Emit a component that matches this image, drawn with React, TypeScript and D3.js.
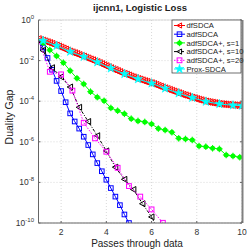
import React from 'react';
import * as d3 from 'd3';

// values are log10 of the duality gap
const dfX = [1.0,1.1,1.2,1.3,1.4,1.5,1.6,1.7,1.8,1.9,2.0,2.1,2.2,2.3,2.4,2.5,2.6,2.7,2.8,2.9,3.0,3.1,3.2,3.3,3.4,3.5,3.6,3.7,3.8,3.9,4.0,4.1,4.2,4.3,4.4,4.5,4.6,4.7,4.8,4.9,5.0,5.1,5.2,5.3,5.4,5.5,5.6,5.7,5.8,5.9,6.0,6.1,6.2,6.3,6.4,6.5,6.6,6.7,6.8,6.9,7.0,7.1,7.2,7.3,7.4,7.5,7.6,7.7,7.8,7.9,8.0,8.1,8.2,8.3,8.4,8.5,8.6,8.7,8.8,8.9,9.0,9.1,9.2,9.3,9.4,9.5,9.6,9.7,9.8,9.9,10.0];
const dfLog = [-0.94,-0.98,-1.01,-1.05,-1.09,-1.13,-1.17,-1.22,-1.26,-1.30,-1.35,-1.40,-1.45,-1.50,-1.55,-1.59,-1.63,-1.67,-1.72,-1.76,-1.80,-1.85,-1.89,-1.94,-1.98,-2.03,-2.07,-2.12,-2.17,-2.22,-2.27,-2.32,-2.37,-2.42,-2.46,-2.51,-2.56,-2.61,-2.65,-2.69,-2.73,-2.78,-2.82,-2.86,-2.90,-2.93,-2.97,-3.01,-3.04,-3.08,-3.11,-3.15,-3.19,-3.24,-3.28,-3.32,-3.36,-3.40,-3.44,-3.48,-3.52,-3.56,-3.60,-3.64,-3.68,-3.71,-3.75,-3.79,-3.82,-3.85,-3.89,-3.92,-3.95,-3.98,-4.01,-4.03,-4.05,-4.07,-4.09,-4.11,-4.13,-4.14,-4.15,-4.16,-4.17,-4.18,-4.19,-4.20,-4.20,-4.21,-4.21];

const adfX = [1.0,1.2,1.4,1.6,1.8,2.0,2.2,2.4,2.6,2.8,3.0,3.2,3.4,3.6,3.8,4.0,4.2,4.4,4.6,4.8,5.0,5.2];
const adfLog = [-0.95,-1.35,-1.87,-2.45,-3.0,-3.5,-4.05,-4.6,-5.0,-5.35,-5.75,-6.16,-6.62,-7.05,-7.45,-7.87,-8.28,-8.7,-9.12,-9.58,-10.0,-10.45];

const s1X = [1.0,1.2,1.5,1.8,2.1,2.4,2.7,3.0,3.3,3.6,3.9,4.2,4.5,4.8,5.1,5.4,5.7,6.0,6.3,6.6,6.9,7.2,7.5,7.8,8.1,8.4,8.7,9.0,9.3,9.6,9.9];
const s1Log = [-0.95,-1.12,-1.48,-1.77,-2.10,-2.50,-2.87,-3.15,-3.53,-3.8,-3.98,-4.33,-4.47,-4.62,-4.86,-4.97,-5.02,-5.12,-5.35,-5.42,-5.53,-5.83,-5.86,-5.91,-6.21,-6.24,-6.32,-6.35,-6.65,-6.70,-6.76];

const s10X = [1.0,1.2,1.6,2.0,2.4,2.8,3.2,3.6,4.0,4.4,4.8,5.2,5.6,6.0,6.4];
const s10Log = [-1.0,-1.5,-2.35,-2.8,-3.3,-4.3,-5.0,-5.7,-6.45,-7.25,-7.85,-8.35,-9.05,-9.7,-10.6];

const s20X = [1.0,1.5,2.0,2.5,3.0,3.5,4.0,4.5,5.0,5.5,6.0,6.5,7.0];
const s20Log = [-1.0,-2.55,-2.68,-3.48,-5.06,-5.83,-6.49,-7.28,-8.18,-8.70,-9.33,-9.99,-10.9];

const proxX = [1.0,1.2,1.8,2.4,3.0,3.6,4.2,4.8,5.4,6.0,6.6,7.2,7.8,8.4,9.0,9.6,10.0];
const proxLog = [-0.95,-1.02,-1.27,-1.56,-1.81,-2.08,-2.38,-2.66,-2.91,-3.12,-3.37,-3.61,-3.83,-4.02,-4.14,-4.20,-4.22];

const names = ['dfSDCA', 'adfSDCA', 'adfSDCA+, s=1', 'adfSDCA+, s=10', 'adfSDCA+, s=20', 'Prox-SDCA'];
const xTicks = [2, 4, 6, 8, 10];
const yExp = [0, -2, -4, -6, -8, -10];

const series = [
  { xs: dfX, ys: dfLog, color: '#ff0000', marker: 'tri', dash: undefined, skipFirst: false, size: 3.4 },
  { xs: adfX, ys: adfLog, color: '#0000ff', marker: 'sq', dash: undefined, skipFirst: true, size: 2.3 },
  { xs: s1X, ys: s1Log, color: '#00ff00', marker: 'circ', dash: undefined, skipFirst: true, size: 2.5 },
  { xs: s10X, ys: s10Log, color: '#000000', marker: 'tri', dash: '3,1.5,1,1.5', skipFirst: true, size: 3 },
  { xs: s20X, ys: s20Log, color: '#ff00ff', marker: 'sq', dash: '1.5,1.5', skipFirst: true, size: 2.4 },
  { xs: proxX, ys: proxLog, color: '#00ffff', marker: 'star', dash: undefined, skipFirst: true, size: 2.5 },
];

const W = 249, H = 250;
const left = 38.5, right = 242, top = 20, bottom = 223;
const font = 'Liberation Sans, Arial, sans-serif';

const Marker = ({ type, x, y, color, s }: { type: string; x: number; y: number; color: string; s: number }) => {
  if (type === 'tri') {
    return <polygon points={`${x - s},${y} ${x + s * 0.8},${y - s} ${x + s * 0.8},${y + s}`} fill="none" stroke={color} strokeWidth={1} />;
  }
  if (type === 'sq') {
    return <rect x={x - s} y={y - s} width={2 * s} height={2 * s} fill="none" stroke={color} strokeWidth={1} />;
  }
  if (type === 'circ') {
    return (
      <g>
        <circle cx={x} cy={y} r={s} fill={color} />
        <path d={`M${x - s - 0.8},${y}H${x + s + 0.8}M${x},${y - s - 0.8}V${y + s + 0.8}`} stroke={color} strokeWidth={1} />
      </g>
    );
  }
  const star = d3.symbol().type(d3.symbolStar).size(s * s * 4)();
  return <path d={star || ''} transform={`translate(${x},${y})`} fill={color} stroke={color} strokeWidth={0.6} />;
};

export default function App() {
  const x = d3.scaleLinear().domain([1, 10]).range([left, right]);
  const y = d3.scaleLog().domain([1e-10, 1]).range([bottom, top]);

  const line = d3.line<[number, number]>().x(d => x(d[0])).y(d => y(Math.pow(10, d[1])));

  const legX = 172, legY = 20, legW = 69, legH = 53;

  return (
    <svg width={W} height={H} style={{ position: 'absolute', left: 0, top: 0, background: '#fff' }}>
      <defs>
        <clipPath id="plot"><rect x={left} y={top - 4} width={right - left} height={bottom - top + 4} /></clipPath>
      </defs>
      {/* grid */}
      {xTicks.map(t => (
        <line key={'gx' + t} x1={x(t)} x2={x(t)} y1={top} y2={bottom} stroke="#c8c8c8" strokeWidth={0.7} strokeDasharray="1,2" />
      ))}
      {yExp.map(e => (
        <line key={'gy' + e} x1={left} x2={right} y1={y(Math.pow(10, e))} y2={y(Math.pow(10, e))} stroke="#c8c8c8" strokeWidth={0.7} strokeDasharray="1,2" />
      ))}
      {/* series */}
      <g clipPath="url(#plot)">
        {series.map((s, i) => {
          const pts = s.xs.map((v, j) => [v, s.ys[j]] as [number, number]);
          return (
            <g key={i}>
              <path d={line(pts) || ''} fill="none" stroke={s.color} strokeWidth={1} strokeDasharray={s.dash} />
              {pts.map((p, j) => (s.skipFirst && j === 0) ? null : (
                <Marker key={j} type={s.marker} x={x(p[0])} y={y(Math.pow(10, p[1]))} color={s.color} s={s.size} />
              ))}
            </g>
          );
        })}
      </g>
      {/* axes */}
      <line x1={left} x2={left} y1={top} y2={bottom} stroke="#666" strokeWidth={1} />
      <line x1={left} x2={right} y1={bottom} y2={bottom} stroke="#666" strokeWidth={1} />
      <line x1={left} x2={right} y1={top} y2={top} stroke="#bbb" strokeWidth={0.5} />
      <line x1={right + 0.5} x2={right + 0.5} y1={top} y2={bottom} stroke="#808080" strokeWidth={2} />
      {xTicks.map(t => (
        <g key={'tx' + t}>
          <line x1={x(t)} x2={x(t)} y1={bottom} y2={bottom - 2} stroke="#666" />
          <text x={x(t)} y={234.5} fontSize={8.5} fill="#333" textAnchor="middle" fontFamily={font}>{t}</text>
        </g>
      ))}
      {yExp.map(e => (
        <g key={'ty' + e}>
          <line x1={left} x2={left + 2} y1={y(Math.pow(10, e))} y2={y(Math.pow(10, e))} stroke="#666" />
          <line x1={right - 2} x2={right} y1={y(Math.pow(10, e))} y2={y(Math.pow(10, e))} stroke="#666" />
          <text x={34} y={y(Math.pow(10, e)) + 3} fontSize={8.5} fill="#333" textAnchor="end" fontFamily={font}>
            <tspan>10</tspan><tspan dy={-4} fontSize={6}>{e}</tspan>
          </text>
        </g>
      ))}
      {/* labels */}
      <text x={140} y={10.5} fontSize={9.5} fontWeight="bold" textAnchor="middle" fill="#222" fontFamily={font}>ijcnn1, Logistic Loss</text>
      <text x={137} y={246.5} fontSize={10} textAnchor="middle" fill="#222" fontFamily={font}>Passes through data</text>
      <text transform={`translate(12.5,117) rotate(-90)`} fontSize={10.5} textAnchor="middle" fill="#222" fontFamily={font}>Duality Gap</text>
      {/* legend */}
      <rect x={legX} y={legY} width={legW} height={legH} fill="#fff" stroke="#333" strokeWidth={0.7} />
      {series.map((s, i) => {
        const ly = legY + 5.5 + i * 8.7;
        return (
          <g key={'l' + i}>
            <line x1={legX + 2} x2={legX + 13} y1={ly} y2={ly} stroke={s.color} strokeWidth={1} strokeDasharray={s.dash} />
            <Marker type={s.marker} x={legX + 7.5} y={ly} color={s.color} s={Math.min(s.size, 2.6)} />
            <text x={legX + 14.5} y={ly + 2.8} fontSize={7.6} fill="#222" fontFamily={font}>{names[i]}</text>
          </g>
        );
      })}
    </svg>
  );
}
